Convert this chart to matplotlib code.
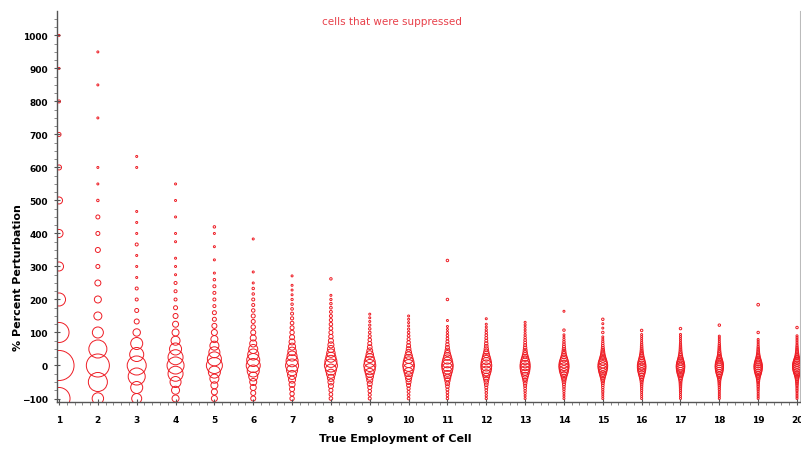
import matplotlib.pyplot as plt
from matplotlib.ticker import MultipleLocator

plt.switch_backend('agg')

# Cell counts by reported (perturbed) employment 0, 1, 2, ... for each true employment value.
# Percent perturbation = (reported - true) / true * 100
emp01 = [484, 900, 400, 169, 81, 64, 49, 25, 16, 9, 4, 4]
emp02 = [130, 361, 529, 324, 121, 64, 49, 36, 16, 25, 16, 16, 6, 4, 4, 0, 0, 4, 0, 4, 0, 4]
emp03 = [100, 144, 289, 361, 196, 144, 55, 25, 16, 9, 9, 4, 4, 4, 9, 4, 4, 4, 0, 0, 0, 4, 4]
emp04 = [49, 64, 121, 225, 289, 225, 144, 81, 49, 36, 25, 16, 9, 9, 9, 4, 4, 4, 0, 4, 4, 0, 4,
         0, 4, 0, 4]
emp05 = [36, 36, 49, 81, 144, 256, 196, 121, 81, 49, 36, 25, 16, 16, 9, 9, 9, 9, 6, 4, 0, 4, 0,
         4, 0, 4, 6]
emp06 = [25, 25, 36, 49, 81, 144, 196, 169, 121, 81, 49, 36, 25, 19, 16, 16, 12, 9, 9, 6, 6, 4,
         0, 4, 0, 0, 0, 0, 0, 4]
emp07 = [19, 19, 25, 36, 49, 81, 121, 169, 144, 100, 71, 49, 36, 25, 19, 16, 13, 10, 9, 7, 6, 5,
         4, 4, 4, 0, 4]
emp08 = [13, 13, 16, 25, 36, 49, 81, 121, 169, 144, 100, 71, 49, 36, 25, 19, 16, 13, 12, 10, 9,
         8, 7, 6, 5, 4, 0, 0, 0, 6]
emp09 = [9, 9, 12, 16, 25, 36, 55, 81, 121, 144, 121, 81, 55, 34, 22, 16, 12, 9, 7, 6, 5, 4, 4, 4]
emp10 = [7, 7, 8, 10, 16, 25, 36, 55, 81, 116, 138, 116, 81, 55, 34, 22, 16, 12, 9, 7, 6, 5, 4,
         4, 4, 4]
emp11 = [6, 6, 7, 9, 13, 19, 29, 44, 64, 92, 121, 135, 112, 85, 58, 36, 23, 16, 12, 9, 7, 6, 5,
         4, 4, 0, 4, 0, 0, 0, 0, 0, 0, 6, 0, 0, 0, 0, 0, 0, 0, 0, 0, 0, 0, 0, 6]
emp12 = [5, 5, 6, 7, 9, 13, 19, 29, 44, 64, 92, 112, 121, 108, 85, 61, 41, 27, 19, 14, 12, 9, 8,
         7, 6, 5, 4, 4, 0, 4]
emp13 = [4, 4, 5, 6, 7, 9, 13, 19, 29, 44, 64, 85, 100, 104, 92, 71, 49, 31, 21, 16, 12, 9, 8, 7,
         6, 5, 4, 4, 4, 4, 4]
emp14 = [4, 4, 4, 5, 6, 7, 9, 13, 19, 29, 44, 64, 85, 100, 104, 92, 71, 49, 31, 21, 16, 12, 9, 7,
         6, 5, 4, 4, 0, 6, 0, 0, 0, 0, 0, 0, 0, 4]
emp15 = [4, 4, 4, 5, 5, 6, 7, 9, 13, 19, 29, 44, 61, 77, 92, 96, 85, 64, 46, 31, 21, 16, 12, 9, 7,
         6, 5, 4, 4, 0, 6, 0, 4, 0, 4, 0, 6]
emp16 = [4, 4, 4, 4, 5, 5, 6, 7, 9, 13, 19, 29, 41, 55, 67, 74, 74, 64, 49, 36, 25, 18, 13, 10, 8,
         7, 6, 5, 4, 4, 4, 4, 0, 6]
emp17 = [4, 4, 4, 4, 5, 5, 6, 7, 8, 10, 14, 21, 31, 44, 58, 67, 74, 74, 64, 49, 36, 25, 18, 13, 10,
         8, 7, 6, 5, 4, 4, 4, 4, 4, 0, 0, 6]
emp18 = [4, 4, 4, 4, 4, 5, 5, 6, 7, 8, 10, 14, 21, 31, 44, 55, 64, 71, 71, 64, 52, 38, 27, 19, 14,
         12, 9, 8, 7, 6, 5, 4, 4, 4, 4, 0, 0, 0, 0, 0, 6]
emp19 = [4, 4, 4, 4, 4, 5, 5, 6, 6, 7, 9, 12, 16, 23, 34, 46, 58, 67, 71, 71, 61, 49, 36, 25, 18,
         13, 10, 8, 7, 6, 5, 4, 4, 4, 4, 0, 0, 0, 6, 0, 0, 0, 0, 0, 0, 0, 0, 0, 0, 0, 0, 0, 0, 0, 7]
emp20 = [4, 4, 4, 4, 4, 5, 5, 5, 6, 7, 8, 10, 13, 18, 25, 36, 49, 64, 74, 81, 81, 74, 61, 46, 34,
         23, 16, 13, 10, 8, 7, 6, 5, 4, 4, 4, 4, 4, 4, 0, 0, 0, 0, 6]

columns = [emp01, emp02, emp03, emp04, emp05, emp06, emp07, emp08, emp09, emp10,
           emp11, emp12, emp13, emp14, emp15, emp16, emp17, emp18, emp19, emp20]
x_ticks = list(range(1, 21))
y_ticks = [-100, 0, 100, 200, 300, 400, 500, 600, 700, 800, 900, 1000]

RED = '#ee1c24'

fig = plt.figure(figsize=(8.01, 4.52), dpi=100)
ax = fig.add_axes([57 / 801, 1 - 403 / 452, (800 - 57) / 801, (403 - 12) / 452])

for true_emp, counts in zip(x_ticks, columns):
    xs, ys, ss = [], [], []
    for reported, n in enumerate(counts):
        if n == 0:
            continue
        xs.append(true_emp)
        ys.append((reported - true_emp) / true_emp * 100)
        ss.append(n * 0.52)
    ax.scatter(xs, ys, s=ss, facecolors='none', edgecolors=RED, linewidths=0.7)

ax.set_xlim(0.948, 20.077)
ax.set_ylim(-110.6, 1074)
ax.set_xticks(x_ticks)
ax.set_yticks(y_ticks)
ax.xaxis.set_minor_locator(MultipleLocator(0.2))
ax.yaxis.set_minor_locator(MultipleLocator(25))

ax.spines['top'].set_visible(False)
for side in ['left', 'bottom']:
    ax.spines[side].set_color('#555555')
    ax.spines[side].set_linewidth(1.0)
ax.spines['right'].set_color('#bbbbbb')
ax.spines['right'].set_linewidth(0.8)

ax.tick_params(axis='both', which='major', direction='inout', length=5, width=0.8,
               color='#555555', labelsize=6.5, pad=4)
ax.tick_params(axis='x', which='major', pad=7)
ax.tick_params(axis='both', which='minor', direction='out', length=2.5, width=0.6,
               color='#777777')
ax.tick_params(axis='y', right=False)
for lbl in ax.get_xticklabels() + ax.get_yticklabels():
    lbl.set_fontweight('bold')

ax.set_xlabel('True Employment of Cell', fontsize=8, fontweight='bold')
ax.xaxis.set_label_coords((395 - 57) / (800 - 57), -(434 - 403) / (403 - 12))
ax.set_ylabel('% Percent Perturbation', fontsize=8, fontweight='bold')
ax.yaxis.set_label_coords(-(57 - 23) / (800 - 57), (403 - 278) / (403 - 12))

fig.text(392 / 801, 1 - 22 / 452, 'cells that were suppressed', color='#e8404a',
         fontsize=7.5, ha='center', va='center')

fig.savefig('out.png', dpi=100)
plt.close(fig)
